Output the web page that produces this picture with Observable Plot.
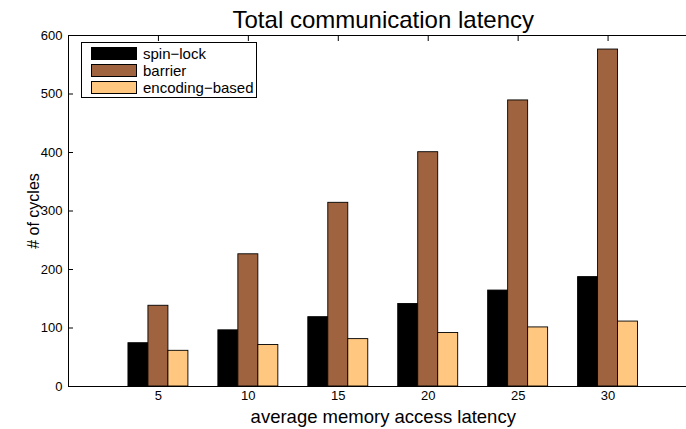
<!DOCTYPE html>
<html><head><meta charset="utf-8">
<script src="https://cdn.jsdelivr.net/npm/d3@7"></script>
<script src="https://cdn.jsdelivr.net/npm/@observablehq/plot@0.6"></script>
<style>
body{margin:0;background:#fff;font-family:"Liberation Sans",Arial,sans-serif}
#wrap{position:relative;width:686px;height:429px;overflow:hidden}
#legend{position:absolute;left:81px;top:42px;width:176px;height:56px;border:1px solid #000;background:#fff;box-sizing:border-box}
.item{position:absolute;left:9px;height:14px;display:flex;align-items:center;font-size:15px;color:#000}
.sw{width:46px;height:13px;border:1px solid #000;box-sizing:border-box;margin-right:6px}
</style></head>
<body><div id="wrap"></div>
<script>
const title = "Total communication latency";
const xLabel = "average memory access latency";
const yLabel = "# of cycles";
const categories = [5, 10, 15, 20, 25, 30];
const seriesNames = ["spin−lock", "barrier", "encoding−based"];
const spinLock = [74, 96, 118.5, 141, 164, 187];
const barrier = [138, 226, 314, 400.5, 489, 576];
const encoding = [61, 71, 81, 91.5, 101, 111];
const colors = ["#000000", "#9f643f", "#ffc77f"];
const yTicks = [0, 100, 200, 300, 400, 500, 600];

const seriesValues = [spinLock, barrier, encoding];
const bw = 5 * (2 / 3) / 3;
const rows = [];
seriesNames.forEach((s, si) => {
  categories.forEach((c, ci) => {
    const center = c + (si - 1) * bw;
    rows.push({series: s, cat: c, value: seriesValues[si][ci], x1: center - bw / 2, x2: center + bw / 2});
  });
});

const chart = Plot.plot({
  width: 686,
  height: 429,
  marginLeft: 68,
  marginRight: -11.5,
  marginTop: 35,
  marginBottom: 43,
  style: {fontFamily: "Liberation Sans, Arial, sans-serif", color: "#000", background: "#fff"},
  x: {domain: [0, 35], axis: null},
  y: {domain: [0, 600], axis: null},
  color: {domain: seriesNames, range: colors},
  marks: [
    Plot.rect(rows, {x1: "x1", x2: "x2", y1: 0, y2: "value", fill: "series", stroke: "#000", strokeWidth: 0.9}),
    Plot.ruleY([0, 600], {stroke: "#000", strokeWidth: 1}),
    Plot.ruleX([0], {stroke: "#000", strokeWidth: 1}),
    Plot.axisY({ticks: yTicks, tickSize: 0, tickPadding: 6, fontSize: 13, label: null}),
    Plot.axisY({ticks: yTicks, tickSize: 5, dx: 5, tickFormat: () => "", label: null}),
    Plot.axisX({ticks: categories, tickSize: 0, tickPadding: 4, fontSize: 13, label: null}),
    Plot.axisX({anchor: "top", ticks: categories, tickSize: 5, dy: 5, tickFormat: () => "", label: null}),
    Plot.text([title], {frameAnchor: "top", lineAnchor: "bottom", dy: -8, fontSize: 24}),
    Plot.text([xLabel], {frameAnchor: "bottom", lineAnchor: "bottom", dy: 36, fontSize: 18.5}),
    Plot.text([yLabel], {frameAnchor: "left", textAnchor: "middle", lineAnchor: "bottom", dx: -30, rotate: -90, fontSize: 16})
  ]
});
const wrap = document.getElementById("wrap");
wrap.appendChild(chart);

const legend = document.createElement("div");
legend.id = "legend";
seriesNames.forEach((s, i) => {
  const it = document.createElement("div");
  it.className = "item";
  it.style.top = (3 + i * 17) + "px";
  const sw = document.createElement("div");
  sw.className = "sw";
  sw.style.background = colors[i];
  const t = document.createElement("span");
  t.textContent = s;
  it.appendChild(sw); it.appendChild(t);
  legend.appendChild(it);
});
wrap.appendChild(legend);
</script></body></html>
